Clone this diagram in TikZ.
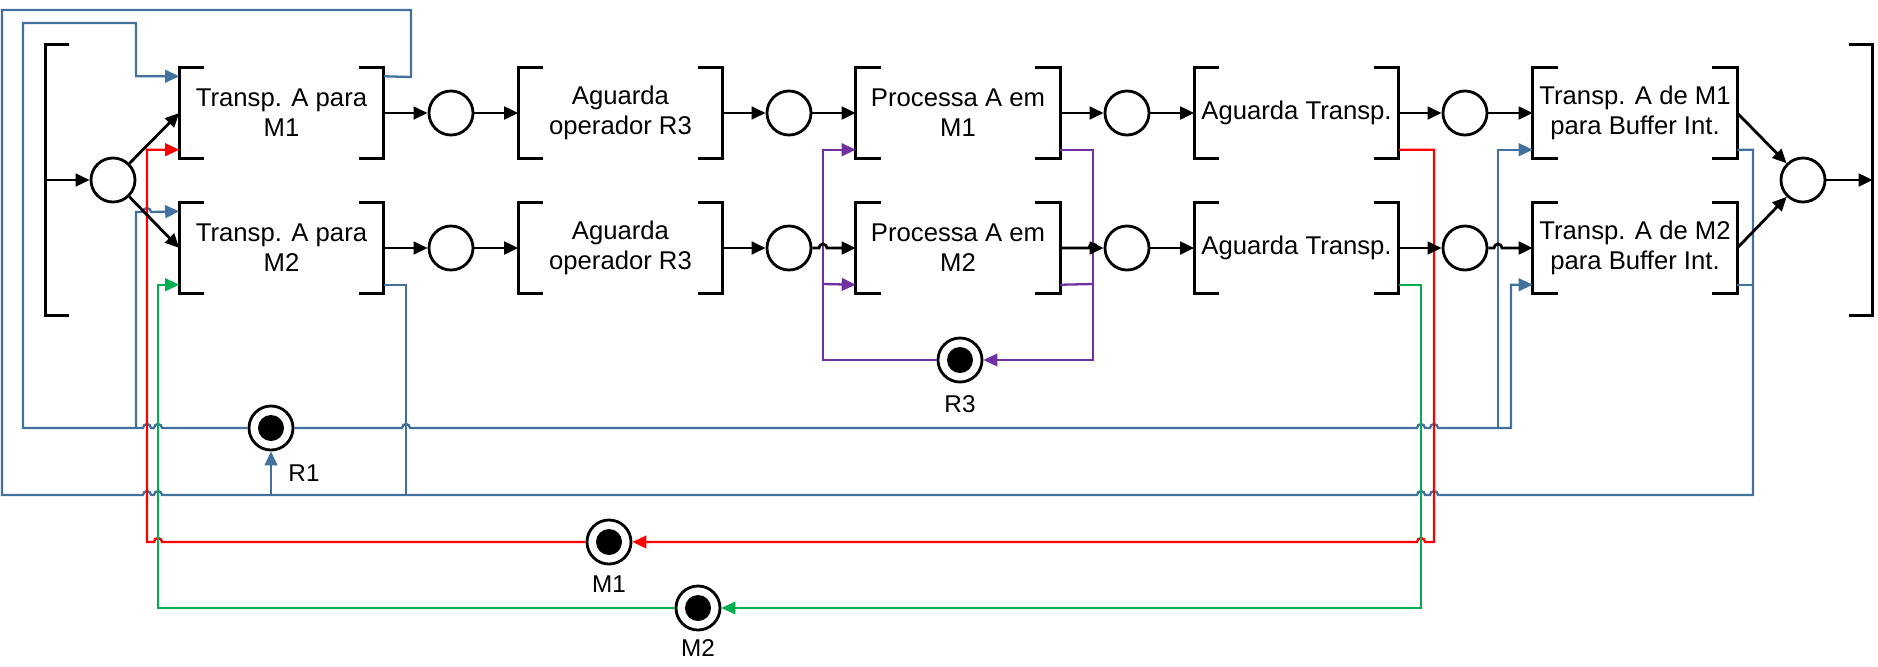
\documentclass[tikz,border=0pt]{standalone}
\usepackage{fontspec}
\setmainfont{Liberation Sans}
\usetikzlibrary{arrows.meta, positioning, calc}

\definecolor{rblue}{RGB}{65,113,156}
\definecolor{mred}{RGB}{255,0,0}
\definecolor{mgreen}{RGB}{0,176,80}
\definecolor{rpurple}{RGB}{112,48,160}

% line jumps over crossing lines
\newcommand{\hopr}{arc[start angle=180, end angle=0, radius=0.04cm]}
\newcommand{\hopl}{arc[start angle=0, end angle=180, radius=0.04cm]}

\begin{document}
\begin{tikzpicture}[x=0.01cm, y=-0.01cm,
  trans/.style={minimum width=2.03cm, minimum height=0.9cm, inner sep=0pt,
                align=center, font=\fontsize{7.3}{8.6}\selectfont},
  edge/.style={minimum width=0.24cm, minimum height=2.7cm, inner sep=0pt},
  place/.style={circle, draw, line width=0.8pt, minimum size=0.44cm, inner sep=0pt},
  marked/.style={place, path picture={\fill (path picture bounding box.center) circle (0.13cm);}},
  lbl/.style={font=\fontsize{6.9}{8}\selectfont},
  brk/.style={line width=0.8pt},
  tip/.style={-{Triangle[length=4pt,width=3.6pt]}},
  flow/.style={tip, line width=0.8pt},
  rone/.style={line width=0.65pt, rblue},
  mone/.style={line width=0.65pt, mred},
  mtwo/.style={line width=0.65pt, mgreen},
  rthree/.style={line width=0.65pt, rpurple}
]
  \useasboundingbox (0,0) rectangle (1878,666);

  \node[edge] (src) at (58,180) {};
  \node[place] (p0) at (113,180) {};
  \node[trans] (ta1) at (281.5,113) {Transp. A para\\M1};
  \node[trans] (ta2) at (281.5,248) {Transp. A para\\M2};
  \node[place] (p1) at (451,113) {};
  \node[place] (p2) at (451,248) {};
  \node[trans] (ag1) at (620.5,113) {Aguarda\\operador R3};
  \node[trans] (ag2) at (620.5,248) {Aguarda\\operador R3};
  \node[place] (p3) at (789,113) {};
  \node[place] (p4) at (789,248) {};
  \node[trans] (pa1) at (958,113) {Processa A em\\M1};
  \node[trans] (pa2) at (958,248) {Processa A em\\M2};
  \node[place] (p5) at (1127,113) {};
  \node[place] (p6) at (1127,248) {};
  \node[trans] (aw1) at (1296.5,113) {Aguarda Transp.};
  \node[trans] (aw2) at (1296.5,248) {Aguarda Transp.};
  \node[place] (p7) at (1465,113) {};
  \node[place] (p8) at (1465,248) {};
  \node[trans] (tb1) at (1635,113) {Transp. A de M1\\para Buffer Int.};
  \node[trans] (tb2) at (1635,248) {Transp. A de M2\\para Buffer Int.};
  \node[place] (p9) at (1803,180) {};
  \node[edge] (snk) at (1860,180) {};

  \node[marked] (R1) at (271,428) {};
  \node[lbl] (lr1) at (304,473) {R1};
  \node[marked] (R3) at (960,360) {};
  \node[lbl] (lr3) at (960,404) {R3};
  \node[marked] (M1) at (609,542) {};
  \node[lbl] (lm1) at (609,584) {M1};
  \node[marked] (M2) at (698,608) {};
  \node[lbl] (lm2) at (698,648) {M2};

  % brackets of the transitions
  \foreach \t in {ta1,ta2,ag1,ag2,pa1,pa2,aw1,aw2,tb1,tb2}{
    \draw[brk] ($(\t.north west)+(25,0)$) -| (\t.south west) -- ++(25,0);
    \draw[brk] ($(\t.north east)+(-25,0)$) -| (\t.south east) -- ++(-25,0);
  }
  \draw[brk] ($(src.north west)+(24,0)$) -| (src.south west) -- ++(24,0);
  \draw[brk] ($(snk.north east)+(-24,0)$) -| (snk.south east) -- ++(-24,0);

  % resource R1
  \draw[rone] ($(ta1.north east)+(0,9)$) -- (411,77) |- (2,10) -- (2,495)
    -- (143,495) \hopr -- (154,495) \hopr -- (1417,495) \hopr -- (1430,495) \hopr
    -- (1753,495) |- ($(tb1.south east)+(0,-9)$);
  \draw[rone] ($(ta2.south east)+(0,-9)$) -| (406,495);
  \draw[rone] ($(tb2.south east)+(0,-9)$) -- +(16,0);
  \draw[rone, tip] (271,495) -- (R1);
  \draw[rone, tip] (R1) -- (162,428) \hopl -- (151,428) \hopl -- (23,428)
    |- (136,23) |- ($(ta1.north west)+(0,9)$);
  \draw[rone, tip] (136,428) -- (136,212) -- (143,212) \hopr -- ($(ta2.north west)+(0,9)$);
  \draw[rone, tip] (R1) -- (402,428) \hopr -- (1417,428) \hopr -- (1430,428) \hopr
    -- (1511,428) |- ($(tb2.south west)+(0,-9)$);
  \draw[rone, tip] (1498,428) |- ($(tb1.south west)+(0,-9)$);

  % machines M1, M2
  \draw[mone, tip] ($(aw1.south east)+(0,-9)$) -| (1434,542) -- (1425,542) \hopl -- (M1);
  \draw[mone, tip] (M1) -- (162,542) \hopl -- (147,542) |- ($(ta1.south west)+(0,-9)$);
  \draw[mtwo, tip] ($(aw2.south east)+(0,-9)$) -| (1421,608) -- (M2);
  \draw[mtwo, tip] (M2) -- (158,608) |- ($(ta2.south west)+(0,-9)$);

  % operator R3
  \draw[rthree, tip] (R3) -- (823,360) |- ($(pa1.south west)+(0,-9)$);
  \draw[rthree, tip] (823,284) -- ($(pa2.south west)+(0,-9)$);
  \draw[rthree, tip] ($(pa1.south east)+(0,-9)$) -| (1093,360) -- (R3);
  \draw[rthree] ($(pa2.south east)+(0,-9)$) -- (1093,284);

  % main flow
  \draw[flow] (src.west) -- (p0);
  \draw[flow] (p0) -- (ta1.west);
  \draw[flow] (p0) -- (ta2.west);
  \foreach \a/\b in {ta1/p1, p1/ag1, ag1/p3, p3/pa1, pa1/p5, p5/aw1, aw1/p7, p7/tb1,
                     ta2/p2, p2/ag2, ag2/p4, p6/aw2, aw2/p8}
    \draw[flow] (\a) -- (\b);
  \draw[flow] (p4) -- (819,248) \hopr -- (pa2);
  \draw[flow] (pa2) -- (1089,248) \hopr -- (p6);
  \draw[flow] (p8) -- (1494,248) \hopr -- (tb2);
  \draw[flow] (tb1.east) -- (p9);
  \draw[flow] (tb2.east) -- (p9);
  \draw[flow] (p9) -- (snk.east);
\end{tikzpicture}
\end{document}
